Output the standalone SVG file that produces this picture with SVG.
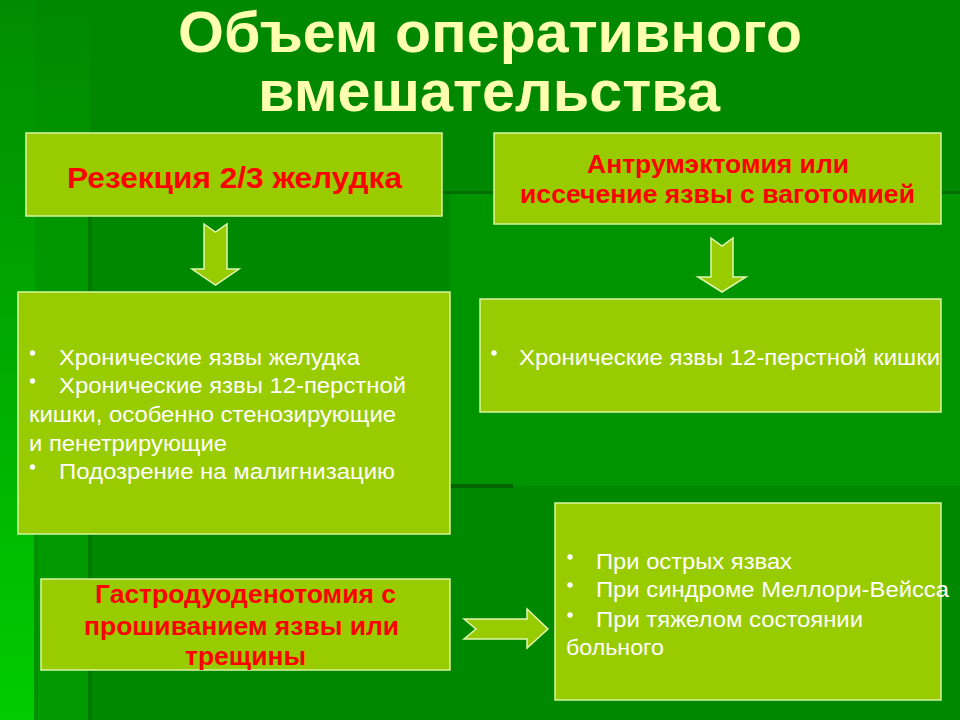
<svg xmlns="http://www.w3.org/2000/svg" width="960" height="720" viewBox="0 0 960 720">
<defs>
<linearGradient id="leftStrip" x1="0" y1="0" x2="0" y2="1">
<stop offset="0" stop-color="#008c00"/>
<stop offset="0.3" stop-color="#009e00"/>
<stop offset="1" stop-color="#00cc00"/>
</linearGradient>
<linearGradient id="leftBand" x1="0" y1="0" x2="0" y2="1">
<stop offset="0" stop-color="#008800"/>
<stop offset="0.25" stop-color="#009600"/>
<stop offset="1" stop-color="#009a00"/>
</linearGradient>
<style>
.box{fill:#99cc00;stroke:#d9f5a0;stroke-width:1.5}
.arrow{fill:#99cc00;stroke:#e0f8b0;stroke-width:1.5;stroke-linejoin:miter}
.title{font-family:"Liberation Sans",Arial,sans-serif;font-weight:bold;font-size:58px;fill:#ffffb0;text-anchor:middle}
.head{font-family:"Liberation Sans",Arial,sans-serif;font-weight:bold;font-size:25px;fill:#ff0000;text-anchor:middle}
.big{font-size:29.5px}
.body{font-family:"Liberation Sans",Arial,sans-serif;font-size:22px;fill:#ffffff}
.bul{fill:#ffffff}
</style>
</defs>
<g id="background">
<rect x="0" y="0" width="960" height="720" fill="#008800"/>
<rect x="0" y="0" width="90" height="720" fill="url(#leftBand)"/>
<rect x="0" y="0" width="35" height="720" fill="url(#leftStrip)"/>
<rect x="34" y="510" width="4" height="210" fill="#009000"/>
<rect x="88" y="215" width="4" height="505" fill="#007a00"/>
<rect x="450" y="193" width="510" height="293" fill="#009400"/>
<rect x="442" y="191" width="518" height="3" fill="#006e00"/>
<rect x="450" y="484" width="63" height="4" fill="#006400"/>
</g>
<g id="title">
<text class="title" x="490" y="52" textLength="624" lengthAdjust="spacingAndGlyphs">Объем оперативного</text>
<text class="title" x="489" y="111" textLength="462" lengthAdjust="spacingAndGlyphs">вмешательства</text>
</g>
<g id="node-resection">
<rect class="box" x="26" y="133" width="416" height="83"/>
<text class="head big" x="234.5" y="188" textLength="335" lengthAdjust="spacingAndGlyphs">Резекция 2/3 желудка</text>
</g>
<g id="node-antrum">
<rect class="box" x="494" y="133" width="447" height="91"/>
<text class="head" x="718" y="173" textLength="262" lengthAdjust="spacingAndGlyphs">Антрумэктомия или</text>
<text class="head" x="717.5" y="203" textLength="395" lengthAdjust="spacingAndGlyphs">иссечение язвы с ваготомией</text>
</g>
<g id="node-indications-left">
<rect class="box" x="18" y="292" width="432" height="242"/>
<circle class="bul" cx="32.5" cy="353" r="2.7"/>
<text class="body" x="59" y="365" textLength="301" lengthAdjust="spacingAndGlyphs">Хронические язвы желудка</text>
<circle class="bul" cx="32.5" cy="381" r="2.7"/>
<text class="body" x="59" y="393" textLength="347" lengthAdjust="spacingAndGlyphs">Хронические язвы 12-перстной</text>
<text class="body" x="29" y="422" textLength="367" lengthAdjust="spacingAndGlyphs">кишки, особенно стенозирующие</text>
<text class="body" x="29" y="451" textLength="198" lengthAdjust="spacingAndGlyphs">и пенетрирующие</text>
<circle class="bul" cx="32.5" cy="467" r="2.7"/>
<text class="body" x="59" y="479" textLength="336" lengthAdjust="spacingAndGlyphs">Подозрение на малигнизацию</text>
</g>
<g id="node-indications-right">
<rect class="box" x="480" y="299" width="461" height="113"/>
<circle class="bul" cx="494" cy="353" r="2.7"/>
<text class="body" x="519" y="365" textLength="421" lengthAdjust="spacingAndGlyphs">Хронические язвы 12-перстной кишки</text>
</g>
<g id="node-gastroduodenotomy">
<rect class="box" x="41" y="579" width="409" height="91"/>
<text class="head" x="245.5" y="603" textLength="301" lengthAdjust="spacingAndGlyphs">Гастродуоденотомия с</text>
<text class="head" x="241.5" y="635" textLength="315" lengthAdjust="spacingAndGlyphs">прошиванием язвы или</text>
<text class="head" x="245.5" y="665" textLength="121" lengthAdjust="spacingAndGlyphs">трещины</text>
</g>
<g id="node-indications-bottom">
<rect class="box" x="555" y="503" width="386" height="197"/>
<circle class="bul" cx="570" cy="557" r="2.7"/>
<text class="body" x="596" y="569" textLength="196" lengthAdjust="spacingAndGlyphs">При острых язвах</text>
<circle class="bul" cx="570" cy="585" r="2.7"/>
<text class="body" x="596" y="597" textLength="353" lengthAdjust="spacingAndGlyphs">При синдроме Меллори-Вейсса</text>
<circle class="bul" cx="570" cy="615" r="2.7"/>
<text class="body" x="596" y="627" textLength="267" lengthAdjust="spacingAndGlyphs">При тяжелом состоянии</text>
<text class="body" x="566" y="655" textLength="98" lengthAdjust="spacingAndGlyphs">больного</text>
</g>
<g id="connectors">
<polygon class="arrow" points="204,224 215.5,232 227,224 227,269 239,269 215.5,285 192,269 204,269"/>
<polygon class="arrow" points="711,238 722,246 733,238 733,277 746,277 722,292 698,277 711,277"/>
<polygon class="arrow" points="464,619 527,619 527,609 548,629 527,648 527,639 464,639 476,629"/>
</g>
</svg>
